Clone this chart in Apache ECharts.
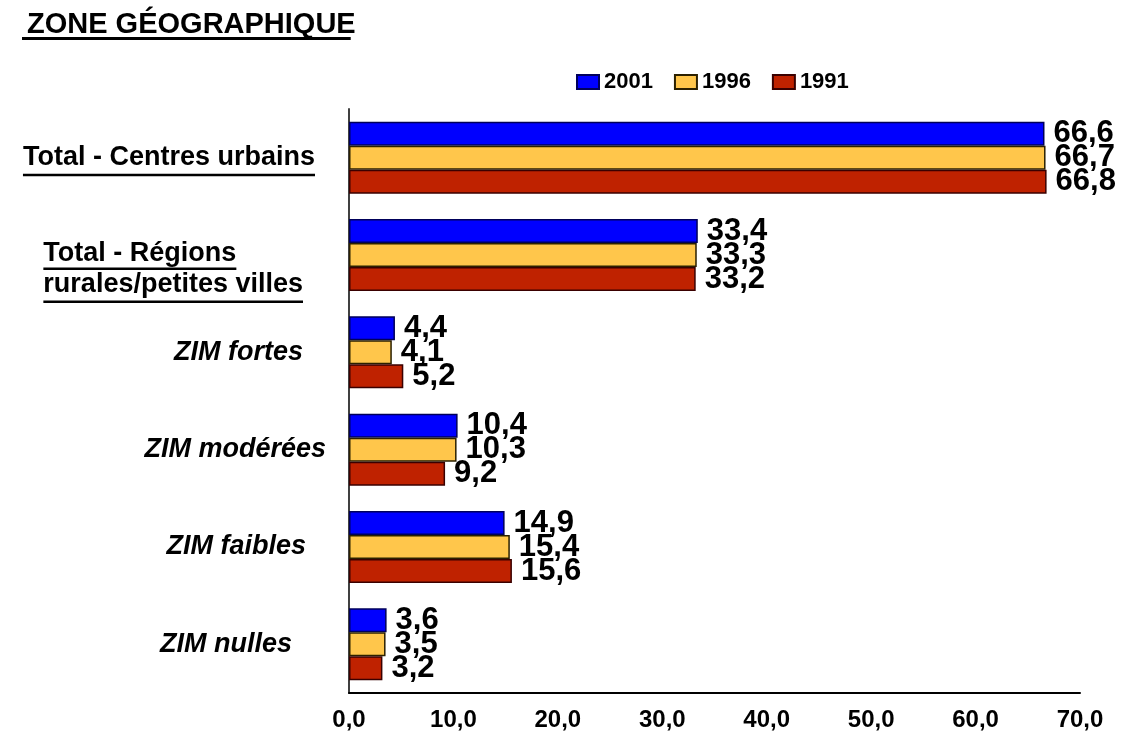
<!DOCTYPE html>
<html>
<head>
<meta charset="utf-8">
<script src="https://cdn.jsdelivr.net/npm/echarts@6/dist/echarts.min.js"></script>
<style>html,body{margin:0;padding:0;background:#fff;}#c{width:1124px;height:734px;}</style>
</head>
<body>
<div id="c"></div>
<script>
const categories = ['Total - Centres urbains', 'Total - Régions\nrurales/petites villes', 'ZIM fortes', 'ZIM modérées', 'ZIM faibles', 'ZIM nulles'];
const years = ['2001', '1996', '1991'];
const v2001 = [66.6, 33.4, 4.4, 10.4, 14.9, 3.6];
const v1996 = [66.7, 33.3, 4.1, 10.3, 15.4, 3.5];
const v1991 = [66.8, 33.2, 5.2, 9.2, 15.6, 3.2];
const xMin = 0, xMax = 70, xStep = 10;

const FONT = "'Liberation Sans', Arial, sans-serif";
const catFs = 27;
const labelMargin = 16;
const padR = [18, 30, 30, 7, 27, 41];
const lineH = 31;
const spacerH = 28;

const colors = ['#0000FF', '#FFC64B', '#BF2200'];
const borders = ['#00005A', '#2B2000', '#3A0000'];
const seriesVals = [v2001, v1996, v1991];

const fmt = v => v.toFixed(1).replace('.', ',');

const rich = {
  t0: { fontFamily: FONT, fontWeight: 'bold', fontSize: catFs, color: '#000', padding: [0, padR[0], 0, 0] },
  sp: { fontSize: 1, lineHeight: spacerH, align: 'left' },
  t1: { fontFamily: FONT, fontWeight: 'bold', fontSize: catFs, color: '#000', align: 'left', lineHeight: lineH, padding: [0, padR[1], 0, 0] }
};
for (let i = 2; i < 6; i++) {
  rich['i' + i] = { fontFamily: FONT, fontWeight: 'bold', fontStyle: 'italic', fontSize: catFs, color: '#000', padding: [0, padR[i], 0, 0] };
}

const chart = echarts.init(document.getElementById('c'), null, { renderer: 'canvas' });
const gridLeft = 349, gridTop = 109, gridRight = 44, gridBottom = 41;

const option = {
  animation: false,
  backgroundColor: '#fff',
  title: {
    text: 'ZONE GÉOGRAPHIQUE',
    left: 22, top: 5,
    textStyle: { fontFamily: FONT, fontWeight: 'bold', fontSize: 29, color: '#000' }
  },
  legend: {
    data: years,
    left: 571, top: 66,
    icon: 'rect',
    itemWidth: 22, itemHeight: 14, itemGap: 21,
    textStyle: { fontFamily: FONT, fontWeight: 'bold', fontSize: 22, color: '#000' }
  },
  grid: { left: gridLeft, top: gridTop, right: gridRight, bottom: gridBottom, containLabel: false },
  xAxis: {
    type: 'value', min: xMin, max: xMax, interval: xStep,
    axisLine: { show: true, lineStyle: { color: '#000', width: 2 } },
    axisTick: { show: false },
    splitLine: { show: false },
    axisLabel: {
      margin: 15, formatter: v => fmt(v),
      fontFamily: FONT, fontWeight: 'bold', fontSize: 24, color: '#000'
    }
  },
  yAxis: {
    type: 'category', data: categories, inverse: true,
    axisLine: { show: true, lineStyle: { color: '#404040', width: 2 } },
    axisTick: { show: false },
    splitLine: { show: false },
    axisLabel: {
      interval: 0, margin: labelMargin,
      formatter: (value, idx) => {
        if (idx === 0) return '{t0|' + value + '}';
        if (idx === 1) return '{sp| }\n' + value.split('\n').map(s => '{t1|' + s + '}').join('\n');
        return '{i' + idx + '|' + value + '}';
      },
      rich: rich
    }
  },
  series: years.map((y, k) => ({
    name: y, type: 'bar', data: seriesVals[k],
    barWidth: 24, barGap: '0%',
    itemStyle: { color: colors[k], borderColor: borders[k], borderWidth: 1.5 },
    label: {
      show: true, position: 'right', distance: 9,
      formatter: p => fmt(p.value),
      fontFamily: FONT, fontWeight: 'bold', fontSize: 31, color: '#000'
    }
  }))
};
chart.setOption(option);

// underlines (decoration) computed from the rendered label positions
const ctx = document.createElement('canvas').getContext('2d');
function tw(text, font) { ctx.font = font; return ctx.measureText(text).width; }
const boldFont = 'bold ' + catFs + 'px ' + FONT;
const anchorX = gridLeft - labelMargin;
const g = [];
const th = 2.5;
const ulOff = 16;
// title
const titleW = tw('ZONE GÉOGRAPHIQUE', 'bold 29px ' + FONT);
g.push({ type: 'rect', shape: { x: 22, y: 37, width: titleW, height: 3 }, style: { fill: '#000' } });
// label 0
{
  const cy = chart.convertToPixel({ yAxisIndex: 0 }, categories[0]);
  const w = tw(categories[0], boldFont);
  const right = anchorX - padR[0];
  g.push({ type: 'rect', shape: { x: right - w, y: cy + ulOff, width: w, height: th }, style: { fill: '#000' } });
}
// label 1 (spacer + two lines, left aligned)
{
  const cy = chart.convertToPixel({ yAxisIndex: 0 }, categories[1]);
  const lines = categories[1].split('\n');
  const ws = lines.map(s => tw(s, boldFont));
  const blockW = Math.max.apply(null, ws);
  const left = anchorX - padR[1] - blockW;
  const blockTop = cy - (spacerH + 2 * lineH) / 2;
  const c1 = blockTop + spacerH + lineH / 2;
  const c2 = c1 + lineH;
  g.push({ type: 'rect', shape: { x: left, y: c1 + ulOff - 2, width: ws[0], height: th }, style: { fill: '#000' } });
  g.push({ type: 'rect', shape: { x: left, y: c2 + ulOff, width: ws[1], height: th }, style: { fill: '#000' } });
}
chart.setOption({ graphic: { elements: g } });
</script>
</body>
</html>
